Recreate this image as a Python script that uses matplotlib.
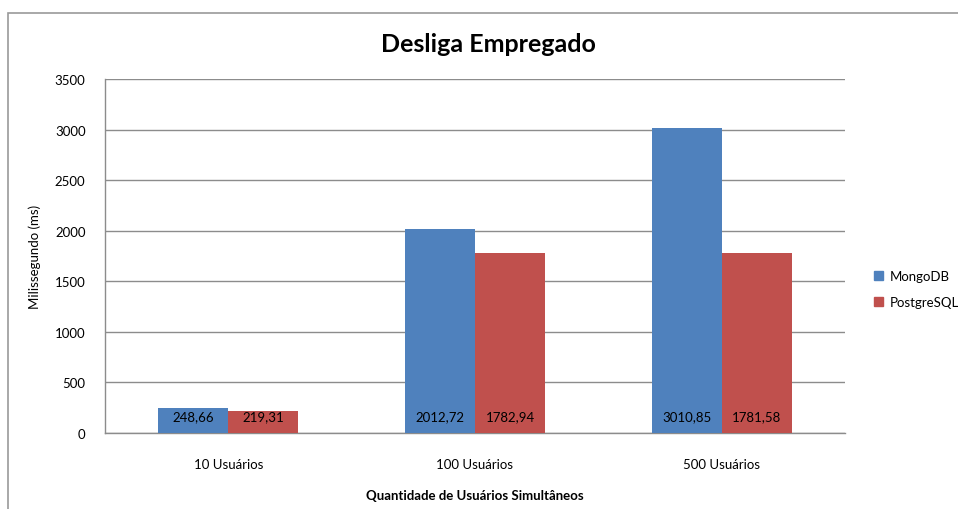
import matplotlib
matplotlib.use("Agg")
import matplotlib.pyplot as plt
from matplotlib.patches import Rectangle, Patch
import numpy as np

categories = ["10 Usuários", "100 Usuários", "500 Usuários"]
mongo = [248.66, 2012.72, 3010.85]
postgres = [219.31, 1782.94, 1781.58]
series_names = ["MongoDB", "PostgreSQL"]
yticks = [0, 500, 1000, 1500, 2000, 2500, 3000, 3500]

BLUE = "#4F81BD"
RED = "#C0504D"
GRID = "#8C8C8C"

plt.rcParams["font.family"] = ["Lato", "DejaVu Sans"]

W, H = 958, 510
fig = plt.figure(figsize=(W / 100, H / 100), dpi=100)
fig.patch.set_facecolor("white")

# outer chart border (only left/top visible, rest cropped)
fig.patches.append(Rectangle((8 / W, -0.1), 1.2, 1.1 - 14 / H, transform=fig.transFigure,
                             fill=False, edgecolor="#9A9A9A", lw=1.2))

ax = fig.add_axes([105 / W, 1 - 434 / H, (845 - 105) / W, (434 - 80) / H])
x = np.arange(len(categories))
bw = 0.284
b1 = ax.bar(x - bw / 2, mongo, bw, color=BLUE, label=series_names[0], zorder=3)
b2 = ax.bar(x + bw / 2, postgres, bw, color=RED, label=series_names[1], zorder=3)

# value labels at the bar base, comma decimals
for bars, vals in ((b1, mongo), (b2, postgres)):
    for b, v in zip(bars, vals):
        ax.annotate(f"{v:.2f}".replace(".", ","), (b.get_x() + b.get_width() / 2, 0),
                    xytext=(0, 12), textcoords="offset points", ha="center", va="center",
                    fontsize=9.5, color="black", zorder=4)

ax.set_xlim(-0.5, 2.5)
ax.set_ylim(0, 3500)
ax.set_yticks(yticks)
ax.set_xticks(x)
ax.set_xticklabels(categories)
ax.tick_params(length=0, labelsize=9.5, colors="black")
ax.tick_params(axis="y", pad=14)
ax.tick_params(axis="x", pad=18)
ax.grid(axis="y", color=GRID, lw=1, zorder=0)
for s in ("top", "right"):
    ax.spines[s].set_visible(False)
for s in ("left", "bottom"):
    ax.spines[s].set_color(GRID)
    ax.spines[s].set_linewidth(1)

ax.set_ylabel("Milissegundo (ms)", fontsize=9.5, labelpad=10)
ax.set_xlabel("Quantidade de Usuários Simultâneos", fontsize=9.5, fontweight="bold", labelpad=14)
fig.text(488 / W, 1 - 45 / H, "Desliga Empregado", ha="center", va="center",
         fontsize=18, fontweight="bold")

handles = [Patch(color=BLUE), Patch(color=RED)]
fig.legend(handles, series_names, loc="center left", bbox_to_anchor=(862 / W, 1 - 290 / H),
           frameon=False, fontsize=9.5, handlelength=0.7, handleheight=0.7,
           handletextpad=0.5, labelspacing=1.1)

fig.savefig("out.png", dpi=100)
